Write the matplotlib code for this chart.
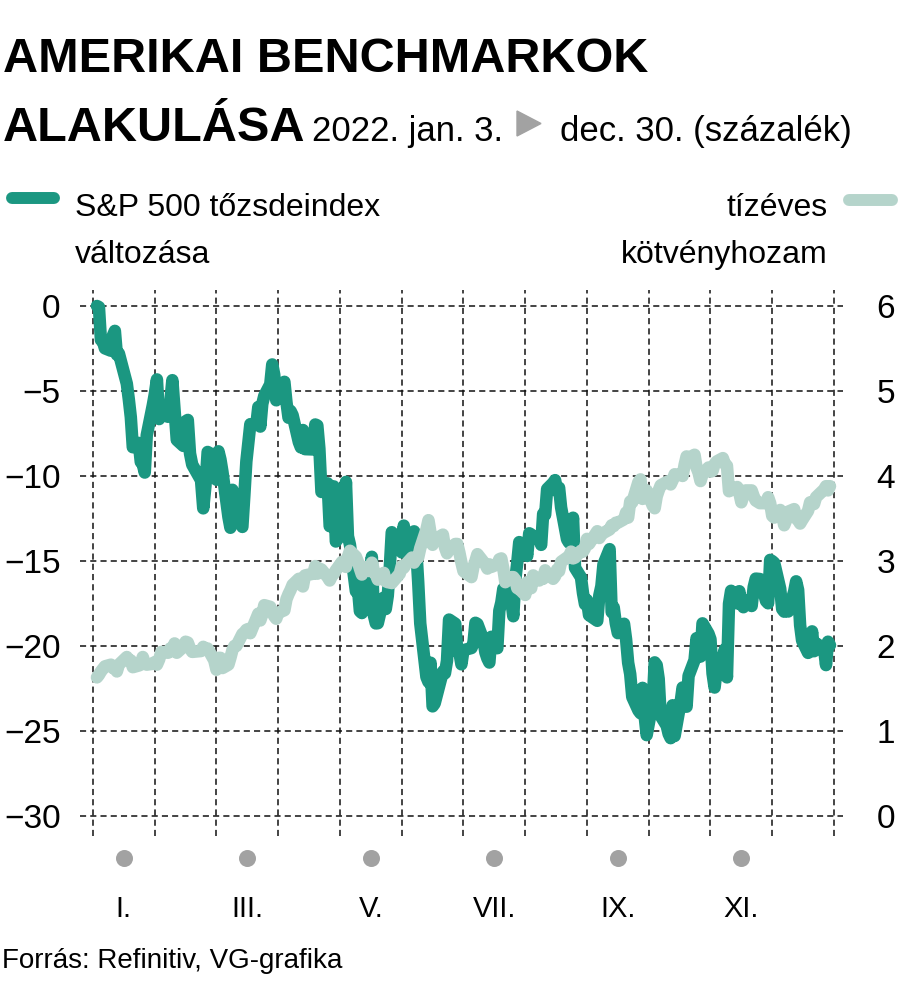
import matplotlib
matplotlib.use("Agg")
import matplotlib.pyplot as plt
from matplotlib import font_manager
from matplotlib.lines import Line2D
from matplotlib.patches import Polygon
import matplotlib.transforms as mtransforms
import pandas as pd

# S&P 500 daily close, 2022 (one row per month)
spx_close = [
    4796.56, 4793.54, 4700.58, 4696.05, 4677.03, 4670.29, 4713.07, 4726.35, 4659.03, 4662.85,
    4577.11, 4532.76, 4482.73, 4397.94, 4410.13, 4356.45, 4349.93, 4326.51, 4431.85, 4515.55,
    4546.54, 4589.38, 4477.44, 4500.53, 4483.87, 4521.54, 4587.18, 4504.08, 4418.64, 4401.67,
    4471.07, 4475.01, 4380.26, 4348.87, 4304.76, 4225.50, 4288.70, 4384.65, 4373.94,
    4306.26, 4386.54, 4363.49, 4328.87, 4201.09, 4170.70, 4277.88, 4259.52, 4204.31, 4173.11,
    4262.45, 4357.86, 4411.67, 4463.12, 4461.18, 4511.61, 4456.24, 4520.16, 4543.06, 4575.52,
    4631.60, 4602.45, 4530.41,
    4545.86, 4582.64, 4525.12, 4481.15, 4500.21, 4488.28, 4412.53, 4397.45, 4446.59, 4392.59,
    4391.69, 4462.21, 4459.45, 4393.66, 4271.78, 4296.12, 4175.20, 4183.96, 4287.50, 4131.93,
    4155.38, 4175.48, 4300.17, 4146.87, 4123.34, 3991.24, 4001.05, 3935.18, 3930.08, 4023.89,
    4008.01, 4088.85, 3923.68, 3900.79, 3901.36, 3973.75, 3941.48, 3978.73, 4057.84, 4158.24,
    4132.15,
    4101.23, 4176.82, 4108.54, 4121.43, 4160.68, 4115.77, 4017.82, 3900.86, 3749.63, 3735.48,
    3789.99, 3666.77, 3674.84, 3764.79, 3759.89, 3795.73, 3911.74, 3900.11, 3821.55, 3818.83,
    3785.38,
    3825.33, 3831.39, 3845.08, 3902.62, 3899.38, 3854.43, 3818.80, 3801.78, 3790.38, 3863.16,
    3830.85, 3936.69, 3959.90, 3998.95, 3961.63, 3966.84, 3921.05, 4023.61, 4072.43, 4130.29,
    4118.63, 4091.19, 4155.17, 4151.94, 4145.19, 4140.06, 4122.47, 4210.24, 4207.27, 4280.15,
    4297.14, 4305.20, 4274.04, 4283.74, 4228.48, 4137.99, 4128.73, 4140.77, 4199.12, 4057.66,
    4030.61, 3986.16, 3955.00,
    3966.85, 3924.26, 3908.19, 3979.87, 4006.18, 4067.36, 4110.41, 3932.69, 3946.01, 3901.35,
    3873.33, 3899.89, 3855.93, 3789.93, 3757.99, 3693.23, 3655.04, 3647.29, 3719.04, 3640.47,
    3585.62,
    3678.43, 3790.93, 3783.28, 3744.52, 3639.66, 3612.39, 3588.84, 3577.03, 3669.91, 3583.07,
    3677.95, 3719.98, 3695.16, 3665.78, 3752.75, 3797.34, 3859.11, 3830.60, 3807.30, 3901.06,
    3871.98,
    3856.10, 3759.69, 3719.89, 3770.55, 3806.80, 3828.11, 3748.57, 3956.37, 3992.93, 3957.25,
    3991.73, 3958.79, 3946.56, 3965.34, 3949.94, 4003.58, 4027.26, 4026.12, 3963.94, 3957.63,
    4080.11,
    4076.57, 4071.70, 3998.84, 3941.26, 3933.92, 3963.51, 3934.38, 3990.56, 4019.65, 3995.32,
    3895.75, 3852.36, 3817.66, 3821.62, 3878.44, 3822.39, 3844.82, 3829.25, 3783.22, 3849.28,
    3839.50,
]

# US 10-year Treasury yield, percent
ust10y = [
    1.63, 1.66, 1.70, 1.73, 1.76, 1.78, 1.74, 1.74, 1.70, 1.78,
    1.87, 1.83, 1.83, 1.75, 1.77, 1.78, 1.87, 1.80, 1.78, 1.79,
    1.81, 1.78, 1.84, 1.93, 1.92, 1.97, 1.94, 2.03, 1.92, 1.99,
    2.05, 2.04, 1.97, 1.93, 1.94, 1.99, 1.96, 1.97, 1.83,
    1.72, 1.86, 1.86, 1.74, 1.78, 1.86, 1.95, 2.00, 2.00, 2.14,
    2.16, 2.19, 2.20, 2.15, 2.32, 2.38, 2.30, 2.37, 2.48, 2.46,
    2.40, 2.35, 2.32,
    2.39, 2.42, 2.55, 2.61, 2.66, 2.72, 2.79, 2.72, 2.70, 2.83,
    2.85, 2.94, 2.85, 2.91, 2.90, 2.81, 2.77, 2.82, 2.85, 2.89,
    2.99, 2.97, 2.93, 3.05, 3.12, 3.05, 2.99, 2.91, 2.84, 2.93,
    2.88, 2.98, 2.89, 2.84, 2.78, 2.86, 2.76, 2.75, 2.75, 2.74,
    2.85,
    2.94, 2.92, 2.96, 3.04, 2.98, 3.03, 3.04, 3.15, 3.37, 3.48,
    3.33, 3.19, 3.25, 3.31, 3.16, 3.09, 3.13, 3.20, 3.20, 3.10,
    2.98,
    2.88, 2.81, 2.93, 3.00, 3.08, 2.99, 2.96, 2.91, 2.96, 2.93,
    2.96, 3.02, 3.03, 2.91, 2.75, 2.81, 2.81, 2.78, 2.68, 2.67,
    2.60, 2.75, 2.73, 2.68, 2.83, 2.77, 2.79, 2.79, 2.89, 2.85,
    2.79, 2.82, 2.90, 2.88, 2.99, 3.04, 3.05, 3.11, 3.03, 3.04,
    3.12, 3.11, 3.15,
    3.26, 3.20, 3.35, 3.27, 3.31, 3.33, 3.37, 3.42, 3.41, 3.45,
    3.45, 3.49, 3.57, 3.51, 3.70, 3.69, 3.93, 3.96, 3.73, 3.75,
    3.83,
    3.65, 3.62, 3.76, 3.83, 3.89, 3.94, 3.90, 3.95, 4.02,
    4.01, 4.00, 4.13, 4.23, 4.21, 4.25, 4.10, 4.04, 3.94, 4.02,
    4.10,
    4.05, 4.06, 4.14, 4.17, 4.21, 4.14, 4.12, 3.82, 3.87,
    3.80, 3.69, 3.77, 3.83, 3.83, 3.76, 3.71, 3.68, 3.68, 3.75,
    3.68,
    3.53, 3.51, 3.60, 3.53, 3.42, 3.48, 3.58, 3.61, 3.50, 3.48,
    3.44, 3.48, 3.59, 3.69, 3.68, 3.67, 3.75, 3.84, 3.88, 3.83,
    3.88,
]

spx_holidays = ["2022-01-17", "2022-02-21", "2022-04-15", "2022-05-30", "2022-06-20",
                "2022-07-04", "2022-09-05", "2022-11-24", "2022-12-26"]
bond_holidays = spx_holidays + ["2022-10-10", "2022-11-11"]

left_ticks = [0, -5, -10, -15, -20, -25, -30]
right_ticks = [0, 1, 2, 3, 4, 5, 6]
month_labels = ["I.", "III.", "V.", "VII.", "IX.", "XI."]
month_label_pos = [0.5, 2.5, 4.5, 6.5, 8.5, 10.5]

dark = "#1b9781"
light = "#b5d4cb"
grey = "#a2a2a2"

names = {f.name for f in font_manager.fontManager.ttflist}
body = "Liberation Sans" if "Liberation Sans" in names else "DejaVu Sans"
if "Liberation Sans Narrow" in names:
    title_font, title_size = "Liberation Sans Narrow", 40
else:
    title_font, title_size = body, 35
plt.rcParams["font.family"] = [body, "DejaVu Sans"]


def month_pos(dates):
    # every month gets the same width on the axis
    return (dates.month - 1) + (dates.day - 1) / dates.days_in_month


spx_dates = pd.bdate_range("2022-01-03", "2022-12-30", freq="C", holidays=spx_holidays)
bond_dates = pd.bdate_range("2022-01-03", "2022-12-30", freq="C", holidays=bond_holidays)
spx_pct = [(c / spx_close[0] - 1) * 100 for c in spx_close]

W, H = 900, 1002
fig = plt.figure(figsize=(9, 10.02), dpi=100)


def fx(x):
    return x / W


def fy(y):
    return 1 - y / H


ax = fig.add_axes([fx(80), fy(836), 763 / W, 546 / H])
ax.set_xlim(-0.21, 12.146)
ax.set_ylim(-31.18, 0.94)
for s in ax.spines.values():
    s.set_visible(False)

ax.set_xticks(range(13))
ax.set_yticks(left_ticks)
ax.set_yticklabels([str(t).replace("-", "\u2212") for t in left_ticks])
ax.tick_params(axis="x", length=0, labelbottom=False)
ax.tick_params(axis="y", length=0, pad=14, labelsize=24)
ax.grid(True, color="#111111", lw=1.1, ls=(0, (4, 2.7)))
ax.set_axisbelow(True)

ax.plot(month_pos(spx_dates), spx_pct, color=dark, lw=9,
        solid_joinstyle="round", solid_capstyle="round", zorder=3)

ax2 = ax.twinx()
ax2.set_ylim((-31.18 + 30) / 5, (0.94 + 30) / 5)
ax2.set_yticks(right_ticks)
ax2.tick_params(axis="y", length=0, pad=24, labelsize=24)
for s in ax2.spines.values():
    s.set_visible(False)
ax2.plot(month_pos(bond_dates), ust10y, color=light, lw=9,
         solid_joinstyle="round", solid_capstyle="round", zorder=3)

# month markers below the plot
trans = mtransforms.blended_transform_factory(ax.transData, ax.transAxes)
ax.scatter(month_label_pos, [-0.04] * len(month_label_pos), s=150, color=grey,
           transform=trans, clip_on=False, zorder=3, linewidths=0)
for x, lab in zip(month_label_pos, month_labels):
    ax.text(x, -0.148, lab, transform=trans, ha="center", va="baseline", fontsize=21)

# title
fig.text(fx(3), fy(72), "AMERIKAI BENCHMARKOK", family=title_font, weight="bold",
         fontsize=title_size, va="baseline")
fig.text(fx(3), fy(141), "ALAKULÁSA", family=title_font, weight="bold",
         fontsize=title_size, va="baseline")
fig.text(fx(312), fy(141), "2022. jan. 3.", fontsize=25, va="baseline")
fig.add_artist(Polygon([(fx(517), fy(111)), (fx(517), fy(136)), (fx(541), fy(123.5))],
                       closed=True, color=grey, transform=fig.transFigure))
fig.text(fx(560), fy(141), "dec. 30. (százalék)", fontsize=25, va="baseline")

# legend
fig.add_artist(Line2D([fx(12), fx(54)], [fy(198), fy(198)], lw=8.6, color=dark,
                      solid_capstyle="round", transform=fig.transFigure))
fig.text(fx(75), fy(216), "S&P 500 tőzsdeindex", fontsize=23, va="baseline")
fig.text(fx(75), fy(263), "változása", fontsize=23, va="baseline")
fig.add_artist(Line2D([fx(849), fx(892)], [fy(200), fy(200)], lw=8.6, color=light,
                      solid_capstyle="round", transform=fig.transFigure))
fig.text(fx(828), fy(216), "tízéves", fontsize=23, va="baseline", ha="right")
fig.text(fx(828), fy(263), "kötvényhozam", fontsize=23, va="baseline", ha="right")

fig.text(fx(2), fy(968), "Forrás: Refinitiv, VG-grafika", fontsize=20, va="baseline")

fig.savefig("out.png", dpi=100)
